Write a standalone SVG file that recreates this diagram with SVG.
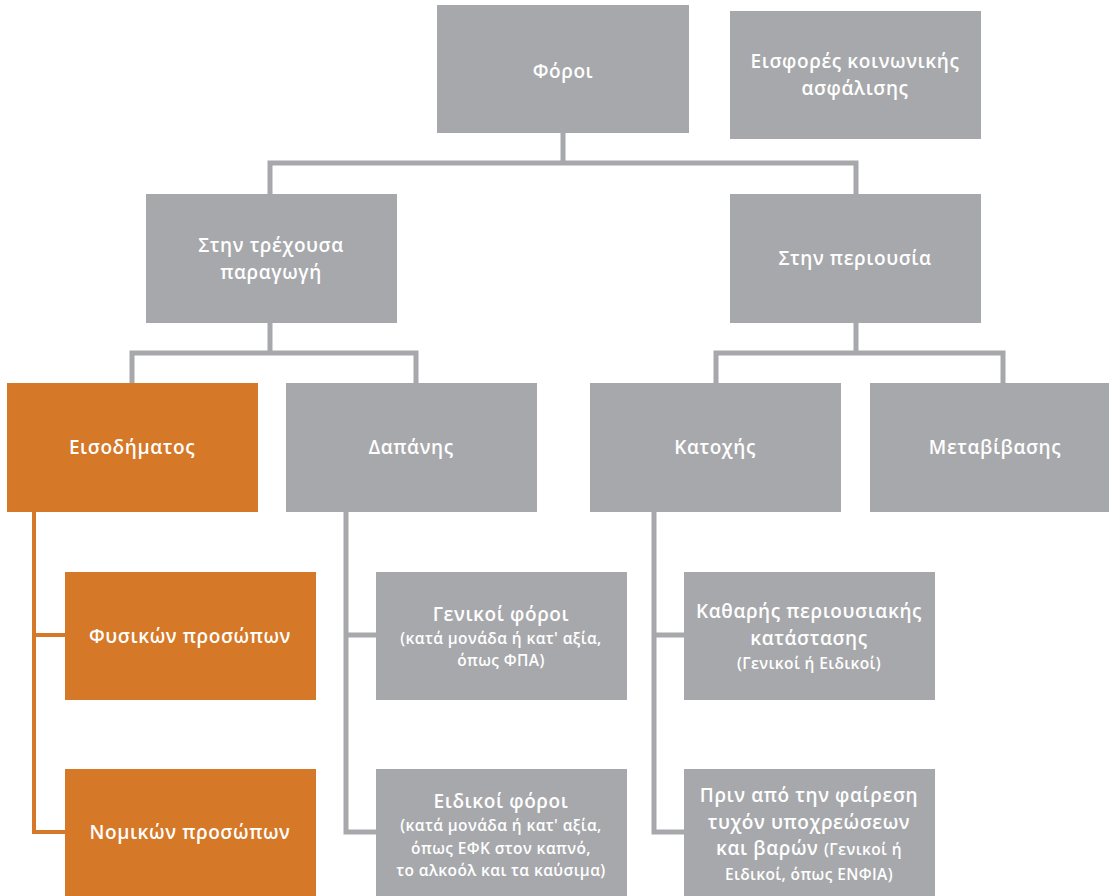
<svg xmlns="http://www.w3.org/2000/svg" width="1109" height="896" viewBox="0 0 1109 896">
<style>
.g{fill:#A7A8AB}
.o{fill:#D57828}
.t{font-family:"Open Sans","Noto Sans","Liberation Sans",sans-serif;font-weight:600;font-size:19px;fill:#fff;text-anchor:middle;letter-spacing:0.6px}
.s{font-size:15.5px;letter-spacing:0.4px}
.cg{stroke:#A7A8AB;stroke-width:5;fill:none}
.co{stroke:#D57828;stroke-width:4;fill:none}
</style>
<rect width="1109" height="896" fill="#fff"/>
<g id="connectors">
<path class="cg" d="M563 133V163M270 194V163H856V194"/>
<path class="cg" d="M270 323V353M132 383V353H416V383"/>
<path class="cg" d="M856 323V353M716 383V353H1003V383"/>
<path class="cg" d="M346 512V832H376M346 635H376"/>
<path class="cg" d="M654 512V832H684M654 635H684"/>
<path class="co" d="M34 512V832H65M34 635H65"/>
</g>
<g id="foroi"><rect class="g" x="437" y="5" width="252" height="128"/><text class="t" x="563" y="78">Φόροι</text></g>
<g id="eisfores"><rect class="g" x="730" y="11" width="251" height="128"/><text class="t" x="855" y="68">Εισφορές κοινωνικής</text><text class="t" x="855" y="95">ασφάλισης</text></g>
<g id="trexousa"><rect class="g" x="146" y="194" width="251" height="129"/><text class="t" x="271" y="252">Στην τρέχουσα</text><text class="t" x="271" y="279">παραγωγή</text></g>
<g id="periousia"><rect class="g" x="730" y="194" width="251" height="129"/><text class="t" x="855" y="265">Στην περιουσία</text></g>
<g id="eisodimatos"><rect class="o" x="7" y="383" width="251" height="129"/><text class="t" x="132" y="454">Εισοδήματος</text></g>
<g id="dapanis"><rect class="g" x="286" y="383" width="251" height="129"/><text class="t" x="411" y="454">Δαπάνης</text></g>
<g id="katoxis"><rect class="g" x="590" y="383" width="251" height="129"/><text class="t" x="715" y="454">Κατοχής</text></g>
<g id="metavivasis"><rect class="g" x="870" y="383" width="251" height="129"/><text class="t" x="995" y="454">Μεταβίβασης</text></g>
<g id="fysikon"><rect class="o" x="65" y="572" width="251" height="128"/><text class="t" x="190" y="643">Φυσικών προσώπων</text></g>
<g id="nomikon"><rect class="o" x="65" y="769" width="251" height="127"/><text class="t" x="190" y="839">Νομικών προσώπων</text></g>
<g id="genikoi"><rect class="g" x="376" y="572" width="251" height="128"/><text class="t" x="501" y="621">Γενικοί φόροι</text><text class="t s" x="501" y="644">(κατά μονάδα ή κατ' αξία,</text><text class="t s" x="501" y="666">όπως ΦΠΑ)</text></g>
<g id="eidikoi"><rect class="g" x="376" y="769" width="251" height="127"/><text class="t" x="501" y="808">Ειδικοί φόροι</text><text class="t s" x="501" y="831">(κατά μονάδα ή κατ' αξία,</text><text class="t s" x="501" y="854">όπως ΕΦΚ στον καπνό,</text><text class="t s" x="501" y="876">το αλκοόλ και τα καύσιμα)</text></g>
<g id="katharis"><rect class="g" x="684" y="572" width="251" height="128"/><text class="t" x="809" y="618">Καθαρής περιουσιακής</text><text class="t" x="809" y="645">κατάστασης</text><text class="t s" x="809" y="669">(Γενικοί ή Ειδικοί)</text></g>
<g id="prin"><rect class="g" x="684" y="769" width="251" height="127"/><text class="t" x="809" y="802">Πριν από την φαίρεση</text><text class="t" x="809" y="829">τυχόν υποχρεώσεων</text><text class="t" x="809" y="855">και βαρών <tspan class="s">(Γενικοί ή</tspan></text><text class="t s" x="809" y="880">Ειδικοί, όπως ΕΝΦΙΑ)</text></g>
</svg>
